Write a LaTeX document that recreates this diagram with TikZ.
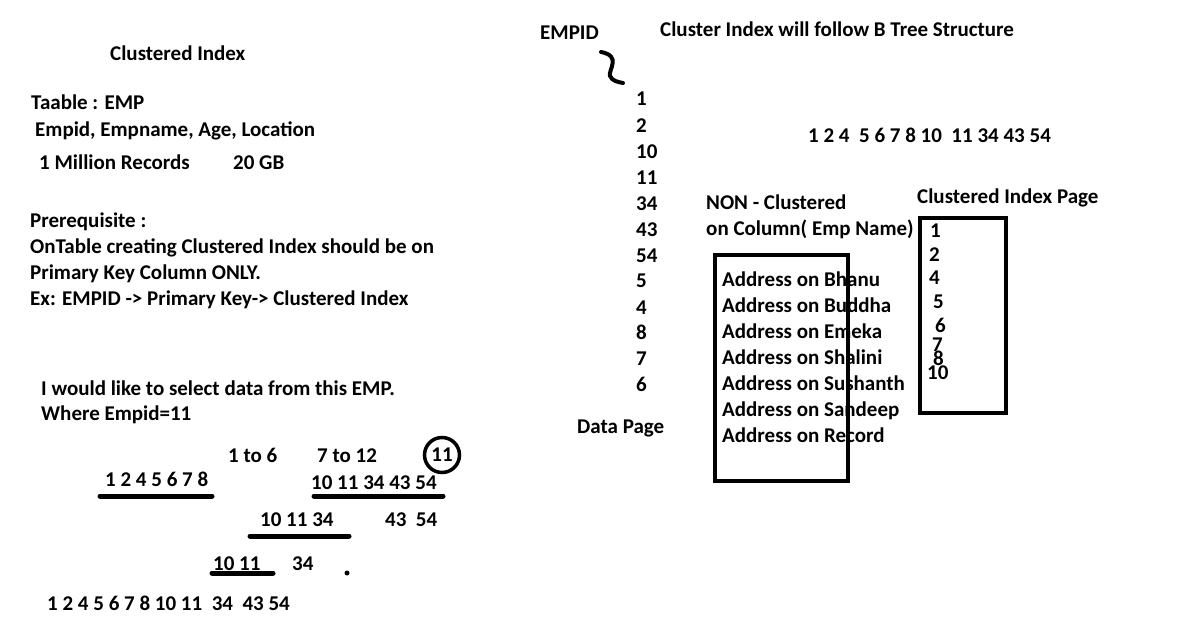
\documentclass[tikz,border=0pt]{standalone}
\usepackage{fontspec}
\setmainfont{Carlito}
\usetikzlibrary{positioning,calc}

\tikzset{
  txt/.style={anchor=west, inner sep=0pt, text height=16pt, text depth=0pt,
    font=\bfseries\fontsize{21}{23}\selectfont},
  mark line/.style={line width=5pt, line cap=round},
  page box/.style={draw, line width=4.5pt}
}

\begin{document}
\begin{tikzpicture}[x=1pt, y=-1pt]
        \useasboundingbox (0,0) rectangle (1181,618);

        % left notes
        \node [txt] (title) at (110,53) {Clustered Index};
        \node [txt] (tbl) at (31,101) {Taable : EMP};
        \node [txt] (cols) at (35,128) {Empid, Empname, Age, Location};
        \node [txt] (recs) at (39,161) {1 Million Records};
        \node [txt] (size) at (233,161) {20 GB};
        \node [txt] (pre) at (30,219) {Prerequisite :};
        \node [txt] (pre1) at (30,245) {OnTable creating Clustered Index should be on};
        \node [txt] (pre2) at (30,271) {Primary Key Column ONLY.};
        \node [txt] (pre3) at (30,297) {Ex: EMPID -> Primary Key-> Clustered Index};
        \node [txt] (sel) at (41,387) {I would like to select data from this EMP.};
        \node [txt] (where) at (41,412) {Where Empid=11};

        % search steps
        \node [txt] (lo) at (228,454) {1 to 6};
        \node [txt] (hi) at (317,454) {7 to 12};
        \node [txt, circle, draw, line width=3.5pt, minimum size=35pt, anchor=center, text height=, text depth=] (hit) at (442,455) {11};
        \node [txt] (left1) at (105,478) {1 2 4 5 6 7 8};
        \node [txt] (right1) at (311,481) {10 11 34 43 54};
        \node [txt] (left2) at (260,518) {10 11 34};
        \node [txt] (right2) at (385,518) {43~ 54};
        \node [txt] (left3) at (213,562) {10 11};
        \node [txt] (right3) at (292,562) {34};
        \node [txt] (all) at (47,602) {1 2 4 5 6 7 8 10 11~ 34~ 43 54};
        \coordinate (u1a) at (100,496);
        \coordinate (u1b) at (212,496);
        \coordinate (u2a) at (314,496);
        \coordinate (u2b) at (443,496);
        \coordinate (u3a) at (250,536);
        \coordinate (u3b) at (349,536);
        \coordinate (u4a) at (212,573);
        \coordinate (u4b) at (273,573);
        \draw [mark line] (u1a) -- (u1b);
        \draw [mark line] (u2a) -- (u2b);
        \draw [mark line] (u3a) -- (u3b);
        \draw [mark line] (u4a) -- (u4b);
        \fill (347,573) circle (2.5pt);

        % data page
        \node [txt] (empid) at (540,32) {EMPID};
        \node [txt] (tree) at (660,29) {Cluster Index will follow B Tree Structure};
        \draw [line width=4pt, line cap=round] (601,52) .. controls (622,56) and (608,70) .. (610,76) .. controls (612,81) and (618,82) .. (623,83);
        \foreach \v/\y in {1/98, 2/124, 10/150, 11/176, 34/202, 43/228, 54/254, 5/279, 4/306, 8/331, 7/357, 6/383}
            \node [txt] (d\v) at (636,\y) {\v};
        \node [txt] (dpage) at (577,425) {Data Page};
        \node [txt] (sorted) at (808,134) {1 2 4~ 5 6 7 8 10~ 11 34 43 54};

        % non-clustered page
        \node [txt] (nc) at (706,201) {NON - Clustered};
        \node [txt] (nccol) at (706,227) {on Column( Emp Name)};
        \foreach \n [count=\i] in {Bhanu, Buddha, Emeka, Shalini, Sushanth, Sandeep, Record}
            \node [txt] (a\i) at (722,252+26*\i) {Address on \n};
        \draw [page box] (715,255) rectangle (848,481);

        % clustered index page
        \node [txt] (cip) at (917,195) {Clustered Index Page};
        \foreach \v/\x/\y in {1/930/229, 2/929/253, 4/929/276, 5/933/300, 6/935/324, 7/932/343, 8/933/357, 10/927/371}
            \node [txt] (c\v) at (\x,\y) {\v};
        \draw [page box] (920,218) rectangle (1006,413);
\end{tikzpicture}
\end{document}
